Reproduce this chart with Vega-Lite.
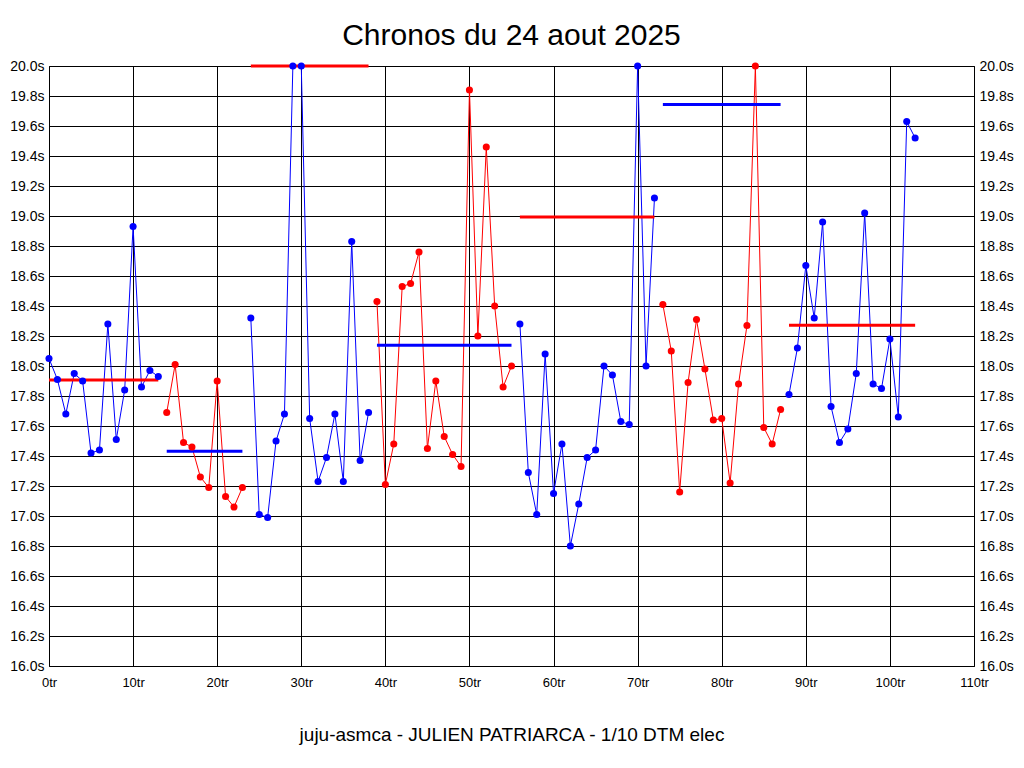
{
  "$schema": "https://vega.github.io/schema/vega-lite/v6.json",
  "width": 925,
  "height": 600,
  "autosize": {"type": "none"},
  "padding": {"left": 49, "top": 66, "right": 50, "bottom": 102},
  "background": "white",
  "title": {"text": "Chronos du 24 aout 2025", "fontSize": 30, "font": "Liberation Sans", "fontWeight": "normal", "color": "black", "anchor": "middle", "offset": 8},
  "config": {
    "view": {"stroke": "black", "strokeWidth": 1},
    "axis": {"labelFont": "Liberation Sans", "labelColor": "black", "gridColor": "black", "gridOpacity": 1, "gridWidth": 1, "ticks": false, "domain": false, "labelOverlap": false}
  },
  "datasets": {
    "laps": [
      {"lap": 0, "t": 18.05, "seg": 1, "c": "blue"},
      {"lap": 1, "t": 17.91, "seg": 1, "c": "blue"},
      {"lap": 2, "t": 17.68, "seg": 1, "c": "blue"},
      {"lap": 3, "t": 17.95, "seg": 1, "c": "blue"},
      {"lap": 4, "t": 17.90, "seg": 1, "c": "blue"},
      {"lap": 5, "t": 17.42, "seg": 1, "c": "blue"},
      {"lap": 6, "t": 17.44, "seg": 1, "c": "blue"},
      {"lap": 7, "t": 18.28, "seg": 1, "c": "blue"},
      {"lap": 8, "t": 17.51, "seg": 1, "c": "blue"},
      {"lap": 9, "t": 17.84, "seg": 1, "c": "blue"},
      {"lap": 10, "t": 18.93, "seg": 1, "c": "blue"},
      {"lap": 11, "t": 17.86, "seg": 1, "c": "blue"},
      {"lap": 12, "t": 17.97, "seg": 1, "c": "blue"},
      {"lap": 13, "t": 17.93, "seg": 1, "c": "blue"},
      {"lap": 14, "t": 17.69, "seg": 2, "c": "red"},
      {"lap": 15, "t": 18.01, "seg": 2, "c": "red"},
      {"lap": 16, "t": 17.49, "seg": 2, "c": "red"},
      {"lap": 17, "t": 17.46, "seg": 2, "c": "red"},
      {"lap": 18, "t": 17.26, "seg": 2, "c": "red"},
      {"lap": 19, "t": 17.19, "seg": 2, "c": "red"},
      {"lap": 20, "t": 17.90, "seg": 2, "c": "red"},
      {"lap": 21, "t": 17.13, "seg": 2, "c": "red"},
      {"lap": 22, "t": 17.06, "seg": 2, "c": "red"},
      {"lap": 23, "t": 17.19, "seg": 2, "c": "red"},
      {"lap": 24, "t": 18.32, "seg": 3, "c": "blue"},
      {"lap": 25, "t": 17.01, "seg": 3, "c": "blue"},
      {"lap": 26, "t": 16.99, "seg": 3, "c": "blue"},
      {"lap": 27, "t": 17.50, "seg": 3, "c": "blue"},
      {"lap": 28, "t": 17.68, "seg": 3, "c": "blue"},
      {"lap": 29, "t": 20.0, "seg": 3, "c": "blue"},
      {"lap": 30, "t": 20.0, "seg": 3, "c": "blue"},
      {"lap": 31, "t": 17.65, "seg": 3, "c": "blue"},
      {"lap": 32, "t": 17.23, "seg": 3, "c": "blue"},
      {"lap": 33, "t": 17.39, "seg": 3, "c": "blue"},
      {"lap": 34, "t": 17.68, "seg": 3, "c": "blue"},
      {"lap": 35, "t": 17.23, "seg": 3, "c": "blue"},
      {"lap": 36, "t": 18.83, "seg": 3, "c": "blue"},
      {"lap": 37, "t": 17.37, "seg": 3, "c": "blue"},
      {"lap": 38, "t": 17.69, "seg": 3, "c": "blue"},
      {"lap": 39, "t": 18.43, "seg": 4, "c": "red"},
      {"lap": 40, "t": 17.21, "seg": 4, "c": "red"},
      {"lap": 41, "t": 17.48, "seg": 4, "c": "red"},
      {"lap": 42, "t": 18.53, "seg": 4, "c": "red"},
      {"lap": 43, "t": 18.55, "seg": 4, "c": "red"},
      {"lap": 44, "t": 18.76, "seg": 4, "c": "red"},
      {"lap": 45, "t": 17.45, "seg": 4, "c": "red"},
      {"lap": 46, "t": 17.90, "seg": 4, "c": "red"},
      {"lap": 47, "t": 17.53, "seg": 4, "c": "red"},
      {"lap": 48, "t": 17.41, "seg": 4, "c": "red"},
      {"lap": 49, "t": 17.33, "seg": 4, "c": "red"},
      {"lap": 50, "t": 19.84, "seg": 4, "c": "red"},
      {"lap": 51, "t": 18.20, "seg": 4, "c": "red"},
      {"lap": 52, "t": 19.46, "seg": 4, "c": "red"},
      {"lap": 53, "t": 18.40, "seg": 4, "c": "red"},
      {"lap": 54, "t": 17.86, "seg": 4, "c": "red"},
      {"lap": 55, "t": 18.00, "seg": 4, "c": "red"},
      {"lap": 56, "t": 18.28, "seg": 5, "c": "blue"},
      {"lap": 57, "t": 17.29, "seg": 5, "c": "blue"},
      {"lap": 58, "t": 17.01, "seg": 5, "c": "blue"},
      {"lap": 59, "t": 18.08, "seg": 5, "c": "blue"},
      {"lap": 60, "t": 17.15, "seg": 5, "c": "blue"},
      {"lap": 61, "t": 17.48, "seg": 5, "c": "blue"},
      {"lap": 62, "t": 16.80, "seg": 5, "c": "blue"},
      {"lap": 63, "t": 17.08, "seg": 5, "c": "blue"},
      {"lap": 64, "t": 17.39, "seg": 5, "c": "blue"},
      {"lap": 65, "t": 17.44, "seg": 5, "c": "blue"},
      {"lap": 66, "t": 18.00, "seg": 5, "c": "blue"},
      {"lap": 67, "t": 17.94, "seg": 5, "c": "blue"},
      {"lap": 68, "t": 17.63, "seg": 5, "c": "blue"},
      {"lap": 69, "t": 17.61, "seg": 5, "c": "blue"},
      {"lap": 70, "t": 20.0, "seg": 5, "c": "blue"},
      {"lap": 71, "t": 18.00, "seg": 5, "c": "blue"},
      {"lap": 72, "t": 19.12, "seg": 5, "c": "blue"},
      {"lap": 73, "t": 18.41, "seg": 6, "c": "red"},
      {"lap": 74, "t": 18.10, "seg": 6, "c": "red"},
      {"lap": 75, "t": 17.16, "seg": 6, "c": "red"},
      {"lap": 76, "t": 17.89, "seg": 6, "c": "red"},
      {"lap": 77, "t": 18.31, "seg": 6, "c": "red"},
      {"lap": 78, "t": 17.98, "seg": 6, "c": "red"},
      {"lap": 79, "t": 17.64, "seg": 6, "c": "red"},
      {"lap": 80, "t": 17.65, "seg": 6, "c": "red"},
      {"lap": 81, "t": 17.22, "seg": 6, "c": "red"},
      {"lap": 82, "t": 17.88, "seg": 6, "c": "red"},
      {"lap": 83, "t": 18.27, "seg": 6, "c": "red"},
      {"lap": 84, "t": 20.0, "seg": 6, "c": "red"},
      {"lap": 85, "t": 17.59, "seg": 6, "c": "red"},
      {"lap": 86, "t": 17.48, "seg": 6, "c": "red"},
      {"lap": 87, "t": 17.71, "seg": 6, "c": "red"},
      {"lap": 88, "t": 17.81, "seg": 7, "c": "blue"},
      {"lap": 89, "t": 18.12, "seg": 7, "c": "blue"},
      {"lap": 90, "t": 18.67, "seg": 7, "c": "blue"},
      {"lap": 91, "t": 18.32, "seg": 7, "c": "blue"},
      {"lap": 92, "t": 18.96, "seg": 7, "c": "blue"},
      {"lap": 93, "t": 17.73, "seg": 7, "c": "blue"},
      {"lap": 94, "t": 17.49, "seg": 7, "c": "blue"},
      {"lap": 95, "t": 17.58, "seg": 7, "c": "blue"},
      {"lap": 96, "t": 17.95, "seg": 7, "c": "blue"},
      {"lap": 97, "t": 19.02, "seg": 7, "c": "blue"},
      {"lap": 98, "t": 17.88, "seg": 7, "c": "blue"},
      {"lap": 99, "t": 17.85, "seg": 7, "c": "blue"},
      {"lap": 100, "t": 18.18, "seg": 7, "c": "blue"},
      {"lap": 101, "t": 17.66, "seg": 7, "c": "blue"},
      {"lap": 102, "t": 19.63, "seg": 7, "c": "blue"},
      {"lap": 103, "t": 19.52, "seg": 7, "c": "blue"}
    ],
    "avg": [
      {"seg": 1, "start": 0, "end": 13, "avg": 17.907, "c": "red"},
      {"seg": 2, "start": 14, "end": 23, "avg": 17.431, "c": "blue"},
      {"seg": 3, "start": 24, "end": 38, "avg": 20.0, "c": "red"},
      {"seg": 4, "start": 39, "end": 55, "avg": 18.138, "c": "blue"},
      {"seg": 5, "start": 56, "end": 72, "avg": 18.993, "c": "red"},
      {"seg": 6, "start": 73, "end": 87, "avg": 19.744, "c": "blue"},
      {"seg": 7, "start": 88, "end": 103, "avg": 18.271, "c": "red"}
    ]
  },
  "layer": [
    {
      "data": {"name": "laps"},
      "mark": {"type": "line", "strokeWidth": 1},
      "encoding": {
        "x": {"field": "lap", "type": "quantitative", "scale": {"domain": [0, 110], "nice": false, "zero": false},
          "axis": {"values": [0, 10, 20, 30, 40, 50, 60, 70, 80, 90, 100, 110], "labelExpr": "datum.value + 'tr'", "labelFontSize": 13, "labelPadding": 10, "labelFlush": false, "grid": true,
            "title": "juju-asmca - JULIEN PATRIARCA - 1/10 DTM elec", "titleFont": "Liberation Sans", "titleFontSize": 19, "titleFontWeight": "normal", "titleColor": "black", "titlePadding": 36}},
        "y": {"field": "t", "type": "quantitative", "scale": {"domain": [16, 20], "nice": false, "zero": false},
          "axis": {"orient": "left", "values": [16, 16.2, 16.4, 16.6, 16.8, 17, 17.2, 17.4, 17.6, 17.8, 18, 18.2, 18.4, 18.6, 18.8, 19, 19.2, 19.4, 19.6, 19.8, 20], "labelExpr": "format(datum.value, '.1f') + 's'", "labelFontSize": 14, "labelPadding": 5, "grid": true, "title": null}},
        "color": {"field": "c", "type": "nominal", "scale": {"domain": ["blue", "red"], "range": ["#0000ff", "#ff0000"]}, "legend": null},
        "detail": {"field": "seg"}
      }
    },
    {
      "data": {"name": "avg"},
      "mark": {"type": "rule", "strokeWidth": 3},
      "encoding": {
        "x": {"field": "start", "type": "quantitative",
          "axis": {"values": [0, 10, 20, 30, 40, 50, 60, 70, 80, 90, 100, 110], "labelExpr": "datum.value + 'tr'", "labelFontSize": 13, "labelPadding": 10, "labelFlush": false, "grid": true,
            "title": "juju-asmca - JULIEN PATRIARCA - 1/10 DTM elec", "titleFont": "Liberation Sans", "titleFontSize": 19, "titleFontWeight": "normal", "titleColor": "black", "titlePadding": 36}},
        "x2": {"field": "end"},
        "y": {"field": "avg", "type": "quantitative",
          "axis": {"orient": "right", "values": [16, 16.2, 16.4, 16.6, 16.8, 17, 17.2, 17.4, 17.6, 17.8, 18, 18.2, 18.4, 18.6, 18.8, 19, 19.2, 19.4, 19.6, 19.8, 20], "labelExpr": "format(datum.value, '.1f') + 's'", "labelFontSize": 14, "labelPadding": 5, "grid": false, "title": null}},
        "color": {"field": "c", "type": "nominal", "legend": null}
      }
    },
    {
      "data": {"name": "laps"},
      "mark": {"type": "circle", "size": 50, "opacity": 1},
      "encoding": {
        "x": {"field": "lap", "type": "quantitative",
          "axis": {"values": [0, 10, 20, 30, 40, 50, 60, 70, 80, 90, 100, 110], "labelExpr": "datum.value + 'tr'", "labelFontSize": 13, "labelPadding": 10, "labelFlush": false, "grid": true,
            "title": "juju-asmca - JULIEN PATRIARCA - 1/10 DTM elec", "titleFont": "Liberation Sans", "titleFontSize": 19, "titleFontWeight": "normal", "titleColor": "black", "titlePadding": 36}},
        "y": {"field": "t", "type": "quantitative", "axis": null},
        "color": {"field": "c", "type": "nominal", "legend": null}
      }
    }
  ],
  "resolve": {"axis": {"y": "independent"}}
}
